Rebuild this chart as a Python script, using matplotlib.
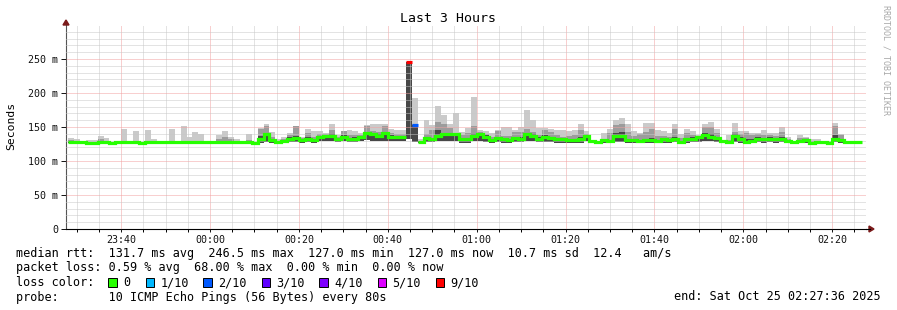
import numpy as np
import matplotlib
matplotlib.use('Agg')
import matplotlib.pyplot as plt
from matplotlib.patches import Rectangle, Polygon

plt.rcParams['font.family'] = ['DejaVu Sans Mono']

# time in minutes from midnight (negative = day before)
x_start = -32.4      # 23:27:36
x_end = 147.6        # 02:27:36
first_step = -31.95  # start of first 80 s step
step_min = 80 / 60.0

# rtt values per step, in ms
median_ms = [128, 128, 127.5, 127, 127, 128, 128, 127, 128, 128,
             128, 128, 127, 128, 128, 128, 128, 128, 128, 128,
             128, 128, 128, 128, 128, 128.5, 128.5, 128, 127.5, 127.5,
             128, 127, 132, 139, 131, 128, 130, 133, 134, 131,
             133, 131, 136, 137, 137, 133, 136, 132.5, 133, 136,
             141.5, 139, 137, 140.5, 136, 136, 136, 246, 153.5, 128,
             134, 132, 137, 139, 139, 139, 132, 132, 137, 139.5,
             136, 131, 134, 132, 131, 134, 133, 139, 137, 133,
             136, 134, 132, 132, 131, 131, 132, 137, 129, 128,
             131, 129, 137, 137, 131, 131, 129, 131, 131, 129,
             132, 131, 133, 128, 132, 133, 135.8, 138, 136, 134,
             129, 128, 137, 132, 128, 129, 133, 132, 133, 132,
             133, 128.7, 128, 128.7, 131, 127, 128, 128, 127, 133,
             131, 128, 128, 128]

low_ms = [127, 127, 127, 126, 126, 127, 127, 126, 127, 127,
          127, 127, 126, 127, 127, 127, 127, 127, 127, 127,
          127, 127, 127, 127, 127, 127, 127, 127, 127, 127,
          127, 126, 127, 128, 127, 127, 127, 128, 128, 127,
          128, 127, 129, 130, 129, 128, 129, 128, 128, 129,
          131, 130, 130, 130, 129, 129, 129, 132, 128, 126,
          128, 128, 129, 130, 130, 130, 127, 127, 129, 130,
          128, 127, 128, 127, 127, 128, 128, 130, 129, 128,
          128, 128, 127, 127, 127, 127, 127, 129, 127, 127,
          127, 127, 128, 128, 127, 127, 127, 127, 127, 127,
          127, 127, 128, 127, 127, 128, 128, 129, 129, 128,
          127, 127, 128, 127, 127, 127, 128, 127, 128, 127,
          128, 127, 127, 127, 127, 126, 127, 127, 126, 128,
          127, 127, 127, 127]

dark_ms = [128, 128, 128, 127, 127, 128, 128, 127, 128, 128,
           128, 128, 127, 128, 128, 128, 128, 128, 128, 128,
           128, 128, 128, 128, 128, 130, 130, 129, 128, 128,
           129, 127, 137, 141, 133, 129, 131, 135, 137, 132,
           135, 133, 137, 138, 140, 134, 138, 134, 135, 137,
           143, 141, 139, 142, 138, 137, 137, 245, 153.5, 129,
           136, 134, 146, 141, 141, 141, 134, 134, 139, 141,
           138, 133, 136, 134, 133, 136, 135, 141, 139, 135,
           138, 136, 134, 134, 133, 133, 135, 138, 129, 128,
           132, 131, 141, 142, 133, 133, 131, 133, 134, 131,
           134, 133, 136, 130, 134, 135, 136, 141, 139, 136,
           129, 129, 139, 135, 132, 132, 135, 134, 135, 134,
           135, 130, 128, 130, 132, 128, 128, 128, 127, 138,
           133, 128, 128, 128]

mid_ms = [131, 129, 128, 128, 128, 133, 130, 127, 128, 129,
          128, 129, 127, 129, 130, 128, 128, 129, 128, 129,
          129, 129, 129, 128, 128, 133, 135, 133, 130, 128,
          131, 127, 147, 151, 135, 130, 133, 138, 151, 134,
          141, 136, 140, 139, 145, 136, 144, 138, 138, 138,
          151, 144, 143, 151, 141, 140, 140, 245, 155, 130,
          140, 145, 158, 155, 148, 141, 138, 141, 151, 142,
          139, 135, 144, 137, 137, 143, 142, 147, 143, 138,
          146, 142, 138, 136, 137, 138, 146, 140, 129, 128,
          133, 141, 153, 155, 143, 137, 140, 142, 147, 137,
          137, 135, 147, 134, 141, 138, 136, 150, 150, 141,
          129, 131, 143, 140, 141, 138, 139, 138, 138, 137,
          143, 133, 128, 134, 134, 130, 130, 129, 128, 151,
          138, 128, 128, 128]

top_ms = [134, 132, 128, 131, 131, 137, 134, 128, 128, 147,
          128, 144, 128, 146, 132, 128, 128, 147, 128, 151.5,
          136, 142.5, 140, 128, 128, 138.5, 144, 136, 133, 130,
          140, 128, 148, 154, 142.5, 132, 136, 141, 152, 136,
          147, 144, 144, 141, 155, 138, 144, 146, 143.5, 141,
          153, 154, 155, 155, 146.5, 145, 145.5, 245, 192, 132,
          160, 153, 181, 167.6, 155, 170, 143, 148, 194.5, 145.5,
          143.5, 141, 146, 149.5, 150, 146, 149.5, 175, 160, 148,
          149, 147, 146, 145.5, 143.5, 145.5, 155, 144.5, 129, 128,
          141.7, 146.6, 160, 162.7, 155, 144.5, 141, 155.4, 156, 145.5,
          143.5, 141, 155, 140, 146.6, 143.5, 138, 155, 157, 146.6,
          129, 138, 155.4, 143.5, 144.5, 141, 141.7, 145.5, 141, 141,
          149.5, 136, 128, 138, 136, 133, 132, 130, 129, 155.4,
          139, 128, 128, 128]

# packet loss per step, in %
loss_pct = [0] * 57 + [68, 20] + [0] * 75

loss_colors = ['#26ff00', '#00b8ff', '#0059ff', '#5e00ff', '#7e00ff', '#dd00ff', '#ff0000']
loss_labels = ['0', '1/10', '2/10', '3/10', '4/10', '5/10', '9/10']

x_ticks = [-20, 0, 20, 40, 60, 80, 100, 120, 140]
x_tick_labels = ['23:40', '00:00', '00:20', '00:40', '01:00', '01:20', '01:40', '02:00', '02:20']
y_ticks = [0, 50, 100, 150, 200, 250]
y_tick_labels = ['0', '50 m', '100 m', '150 m', '200 m', '250 m']

W, H = 897, 310
fig = plt.figure(figsize=(W / 100, H / 100), dpi=100)
fig.patch.set_facecolor('white')
ax = fig.add_axes([66 / W, 1 - 229 / H, 800 / W, 204 / H])

n = len(median_ms)
edges = first_step + step_min * np.arange(n + 1)

# smoke
ax.stairs(top_ms, edges, baseline=low_ms, fill=True, color='#cacaca', lw=0)
ax.stairs(mid_ms, edges, baseline=low_ms, fill=True, color='#9c9c9c', lw=0)
ax.stairs(dark_ms, edges, baseline=low_ms, fill=True, color='#474747', lw=0)

# median line, coloured by loss
med = np.array(median_ms, float)
cls = np.minimum(np.round(np.array(loss_pct) / 10).astype(int), 6)
green = np.where(cls == 0, med, np.nan)
ax.step(edges, np.append(green, green[-1]), where='post', color=loss_colors[0],
        lw=2.3, solid_capstyle='butt', solid_joinstyle='miter', zorder=3)
for k in range(n):
    if cls[k] > 0:
        ax.hlines(med[k], edges[k], edges[k + 1], color=loss_colors[cls[k]], lw=2.3, zorder=3)

ax.set_xlim(x_start, x_end)
ax.set_ylim(0, 300)
ax.set_xticks(x_ticks)
ax.set_xticklabels(x_tick_labels)
ax.set_xticks(np.arange(-30, 146, 5), minor=True)
ax.set_yticks(y_ticks)
ax.set_yticklabels(y_tick_labels)
ax.set_yticks(np.arange(0, 300, 10), minor=True)

ax.set_axisbelow(False)
ax.grid(which='minor', color='#c8c8c8', ls=(0, (1, 1)), lw=0.72)
ax.grid(which='major', color='#f2a0a0', ls=(0, (1, 1)), lw=0.72)

ax.tick_params(axis='both', which='major', labelsize=7.2, colors='#111111')
ax.tick_params(axis='x', which='both', direction='out', length=2, pad=2, width=0.7)
ax.tick_params(axis='y', which='major', direction='out', length=3.5, pad=2, width=0.7)
ax.tick_params(axis='y', which='minor', length=0)

for s in ['top', 'right']:
    ax.spines[s].set_visible(False)
ax.spines['left'].set_color('#555555')
ax.spines['bottom'].set_color('#000000')
ax.spines['left'].set_linewidth(0.8)
ax.spines['bottom'].set_linewidth(0.8)

# overlay in pixel coordinates for text, arrows and legend
ov = fig.add_axes([0, 0, 1, 1])
ov.set_xlim(0, W)
ov.set_ylim(H, 0)
ov.axis('off')
ov.patch.set_alpha(0)

ov.plot([866, 870], [229, 229], color='black', lw=0.8)
ov.add_patch(Polygon([(63, 25), (69, 25), (66, 20)], closed=True, color='#7a1a1a'))
ov.add_patch(Polygon([(869, 226), (869, 232), (874, 229)], closed=True, color='#7a1a1a'))

ov.text(448, 19, 'Last 3 Hours', ha='center', va='center', fontsize=9.5, color='black')
ov.text(11, 126, 'Seconds', rotation=90, ha='center', va='center', fontsize=8.2)
ov.text(886, 60, 'RRDTOOL / TOBI OETIKER', rotation=270, ha='center', va='center',
        fontsize=6, color='#a8a8a8')

fs = 8.5
ov.text(16, 254, 'median rtt:  131.7 ms avg  246.5 ms max  127.0 ms min  127.0 ms now  10.7 ms sd  12.4   am/s',
        va='center', ha='left', fontsize=fs)
ov.text(16, 268, 'packet loss: 0.59 % avg  68.00 % max  0.00 % min  0.00 % now',
        va='center', ha='left', fontsize=fs)
ov.text(16, 282.5, 'loss color:', va='center', ha='left', fontsize=fs)
box_x = [108.3, 145.7, 203.3, 261.7, 319.3, 377.7, 436]
label_x = [123, 160.5, 218, 276, 334, 392.5, 450]
for bx, lx, c, lab in zip(box_x, label_x, loss_colors, loss_labels):
    ov.add_patch(Rectangle((bx, 278.3), 8.4, 8.4, facecolor=c, edgecolor='black', lw=0.7))
    ov.text(lx, 282.5, lab, va='center', ha='left', fontsize=fs)
ov.text(16, 297, 'probe:       10 ICMP Echo Pings (56 Bytes) every 80s',
        va='center', ha='left', fontsize=fs)
ov.text(881, 297, 'end: Sat Oct 25 02:27:36 2025', va='center', ha='right', fontsize=fs)

fig.savefig('out.png', dpi=100)
